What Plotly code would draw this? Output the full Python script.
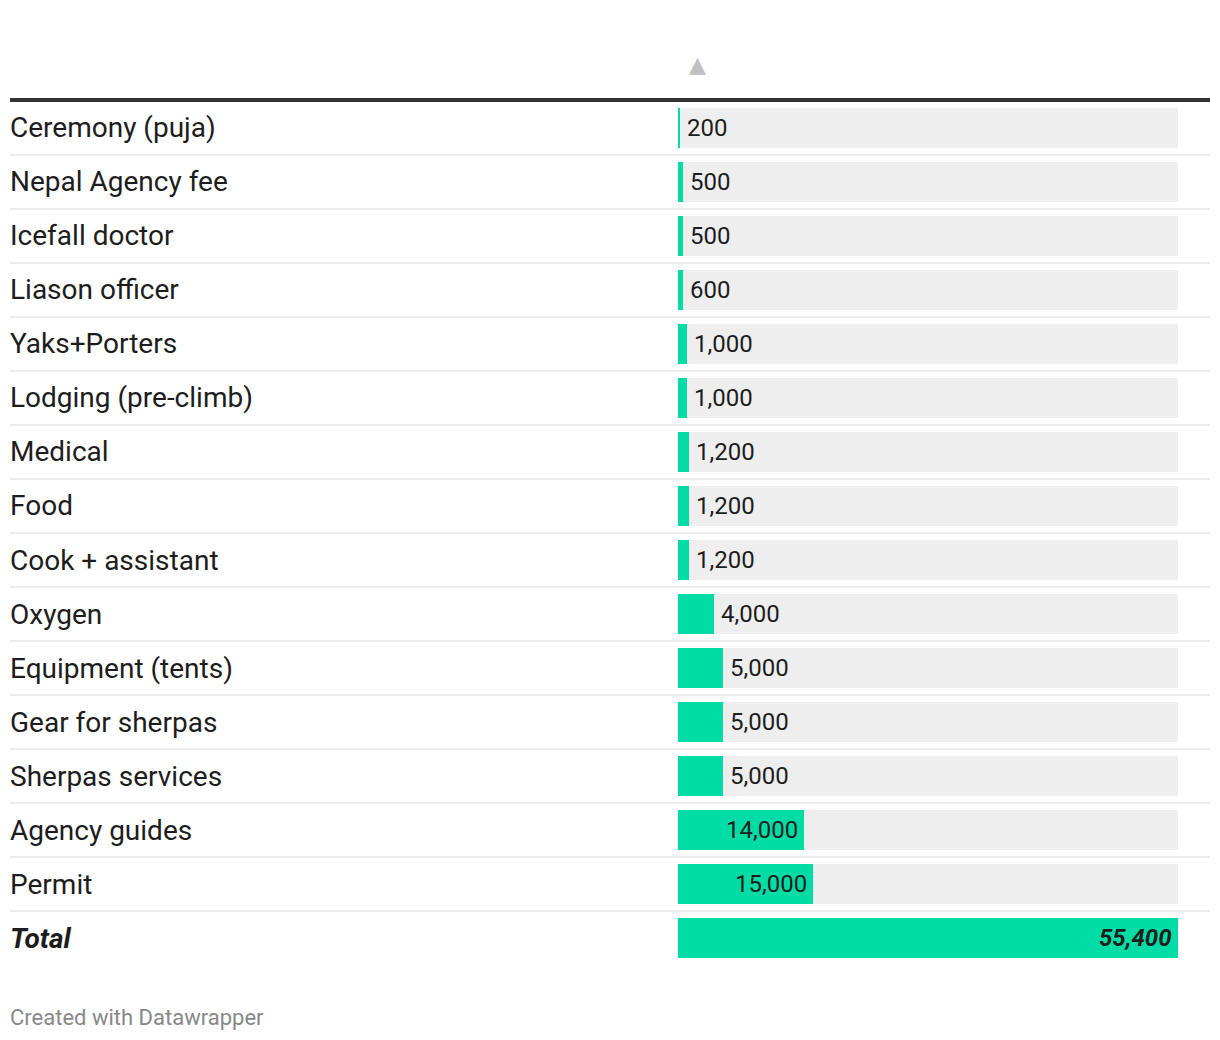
import plotly.graph_objects as go

categories = ["Ceremony (puja)", "Nepal Agency fee", "Icefall doctor", "Liason officer",
              "Yaks+Porters", "Lodging (pre-climb)", "Medical", "Food", "Cook + assistant",
              "Oxygen", "Equipment (tents)", "Gear for sherpas", "Sherpas services",
              "Agency guides", "Permit", "Total"]
values = [200, 500, 500, 600, 1000, 1000, 1200, 1200, 1200, 4000, 5000, 5000, 5000,
          14000, 15000, 55400]
value_labels = ["200", "500", "500", "600", "1,000", "1,000", "1,200", "1,200", "1,200",
                "4,000", "5,000", "5,000", "5,000", "14,000", "15,000", "55,400"]

OFF = 8  # page body margin
W, H = 1220 - OFF, 1040 - OFF
GREEN = "#00dca6"
GRAY = "#eeeeee"
TEXT = "#1d1d1d"
FONT = "Roboto"

n = len(categories)
vmax = max(values)
idx = list(range(n))

# pixel geometry (window coordinates)
x0_px, x1_px = 678, 1178
row_top, row_h = 101, 54
y_top_px = row_top
y_bot_px = row_top + row_h * n


def px(x):
    return (x - OFF) / W


def py(y):
    return 1 - (y - OFF) / H


fig = go.Figure()
fig.add_trace(go.Bar(
    y=idx, x=[vmax] * n, orientation="h", marker=dict(color=GRAY, line=dict(width=0)),
    width=40 / 54, hoverinfo="skip", showlegend=False))
fig.add_trace(go.Bar(
    y=idx, x=values, orientation="h", marker=dict(color=GREEN, line=dict(width=0)),
    width=40 / 54, hoverinfo="skip", showlegend=False))

annotations = []
bar_px_per_val = (x1_px - x0_px) / vmax
for i, (cat, v, lab) in enumerate(zip(categories, values, value_labels)):
    is_total = cat == "Total"
    txt = f"<b><i>{cat}</i></b>" if is_total else cat
    annotations.append(dict(x=px(8), xref="paper", y=i, yref="y", text=txt,
                            showarrow=False, xanchor="left", yanchor="middle",
                            font=dict(family=FONT, size=28, color=TEXT)))
    vtxt = f"<b><i>{lab}</i></b>" if is_total else lab
    label_w = len(lab) * 13
    bar_w = v * bar_px_per_val
    if bar_w > label_w + 20:
        annotations.append(dict(x=v, xref="x", y=i, yref="y", text=vtxt, showarrow=False,
                                xanchor="right", yanchor="middle", xshift=-4,
                                font=dict(family=FONT, size=24, color=TEXT)))
    else:
        annotations.append(dict(x=v, xref="x", y=i, yref="y", text=vtxt, showarrow=False,
                                xanchor="left", yanchor="middle", xshift=5,
                                font=dict(family=FONT, size=24, color=TEXT)))

annotations.append(dict(x=px(698), xref="paper", y=py(65), yref="paper", text="▲",
                        showarrow=False, xanchor="center", yanchor="middle",
                        font=dict(family="DejaVu Sans", size=22, color="#c0c0c0")))
annotations.append(dict(x=px(8), xref="paper", y=py(1017), yref="paper",
                        text="Created with Datawrapper", showarrow=False,
                        xanchor="left", yanchor="middle",
                        font=dict(family=FONT, size=22, color="#888888")))

shapes = []
for i in range(n - 1):
    shapes.append(dict(type="line", xref="paper", x0=px(10), x1=px(1210), yref="y",
                       y0=i + 0.5, y1=i + 0.5, line=dict(color="#ececec", width=2)))
shapes.append(dict(type="line", xref="paper", x0=px(10), x1=px(1210), yref="paper",
                   y0=py(100), y1=py(100), line=dict(color="#333333", width=4)))

fig.update_layout(
    width=W, height=H, margin=dict(l=0, r=0, t=0, b=0),
    paper_bgcolor="white", plot_bgcolor="white", barmode="overlay", bargap=0,
    xaxis=dict(domain=[px(x0_px), px(x1_px)], range=[0, vmax], visible=False, fixedrange=True),
    yaxis=dict(domain=[py(y_bot_px), py(y_top_px)], range=[n - 0.5, -0.5], visible=False,
               fixedrange=True),
    annotations=annotations, shapes=shapes,
)

fig.write_html("out.html", config={"displayModeBar": False})
